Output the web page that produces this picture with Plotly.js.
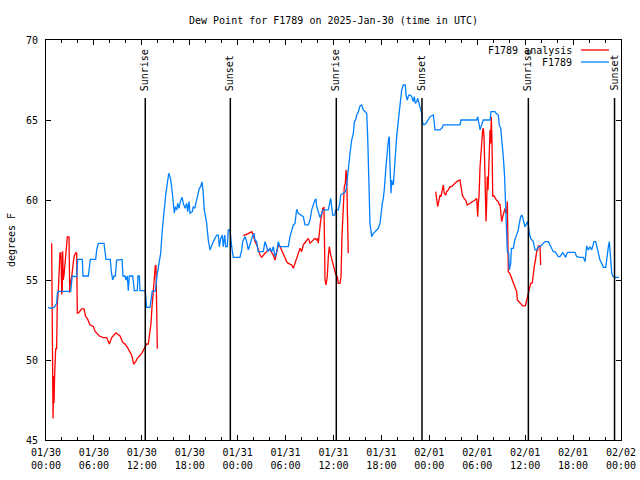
<!DOCTYPE html>
<html>
<head>
<meta charset="utf-8">
<script src="https://cdn.plot.ly/plotly-3.0.1.min.js"></script>
<style>html,body{margin:0;padding:0;background:#fff}#chart{width:640px;height:480px}</style>
</head>
<body>
<div id="chart"></div>
<script>
// Hours since 2025-01-30 00:00 UTC
const tickHours = [0, 6, 12, 18, 24, 30, 36, 42, 48, 54, 60, 66, 72];
const tickLabels = ["01/30<br>00:00", "01/30<br>06:00", "01/30<br>12:00", "01/30<br>18:00",
  "01/31<br>00:00", "01/31<br>06:00", "01/31<br>12:00", "01/31<br>18:00",
  "02/01<br>00:00", "02/01<br>06:00", "02/01<br>12:00", "02/01<br>18:00", "02/02<br>00:00"];

const sunHours = [12.43, 23.08, 36.35, 47.08, 60.40, 71.19];
const sunLabels = ["Sunrise", "Sunset", "Sunrise", "Sunset", "Sunrise", "Sunset"];

const analysisHours = [
  0.71, 0.75, 0.88, 0.96, 1.00, 1.08, 1.21, 1.33, 1.41, 1.54, 1.67, 1.75, 1.88, 1.97, 2.04, 2.09,
  2.17, 2.25, 2.38, 2.50, 2.59, 2.67, 2.88, 2.97, 3.04, 3.22, 3.29, 3.42, 3.54, 3.72, 3.84, 3.92,
  4.17, 4.47, 4.76, 4.97, 5.17, 5.51, 5.92, 6.14, 6.67, 7.17, 7.60, 7.93, 8.23, 8.51, 8.76, 9.05,
  9.27, 9.60, 9.89, 10.18, 10.52, 10.73, 10.98, 11.23, 11.43, 11.77, 11.98, 12.18, 12.48, 12.61,
  12.81, 13.02, 13.15, 13.27, 13.40, 13.52, 13.61, 13.69, 13.77, 13.86, 13.94,
  null,
  24.71, 25.04, 25.26, 25.54, 25.76, 25.96, 26.17, 26.38, 26.58, 26.80, 27.01, 27.21, 27.42, 27.64,
  27.84, 28.05, 28.26, 28.46, 28.68, 28.89, 29.09, 29.30, 29.51, 29.71, 29.93, 30.14, 30.34, 30.55,
  30.77, 30.97, 31.18, 31.39, 31.59, 31.81, 32.02, 32.22, 32.43, 32.64, 32.85, 33.06, 33.27, 33.47,
  33.68, 33.90, 34.02, 34.10, 34.22, 34.40, 34.52, 34.65, 34.81, 34.94, 35.06, 35.22, 35.35, 35.47,
  35.65, 35.77, 35.98, 36.19, 36.31, 36.48, 36.60, 36.81, 36.94, 37.06, 37.23, 37.35, 37.48, 37.57,
  37.65, 37.73, 37.85,
  null,
  48.80, 48.92, 49.05, 49.17, 49.34, 49.46, 49.62, 49.75, 49.87, 50.05, 50.17, 50.38, 50.59, 50.80,
  51.00, 51.22, 51.43, 51.84, 51.97, 52.13, 52.34, 52.55, 52.75, 53.09, 53.43, 53.72, 53.93, 54.06,
  54.13, 54.22, 54.35, 54.47, 54.56, 54.68, 54.76, 54.85, 54.93, 55.01, 55.10, 55.18, 55.26, 55.35,
  55.47, 55.60, 55.68, 55.76, 55.85, 55.94, 56.10, 56.26, 56.44, 56.64, 56.76, 56.85, 56.97, 57.06,
  57.19, 57.35, 57.48, 57.60, 57.69, 57.77, 57.85, 57.89, 58.10, 58.31, 58.52, 58.73, 58.94, 59.02,
  59.35, 59.69, 60.02, 60.19, 60.36, 60.52, 60.69, 60.89, 61.02, 61.14, 61.32, 61.44, 61.57, 61.65,
  61.86, 61.94
];
const analysisValues = [
  57.3, 51.9, 46.35, 49.0, 47.3, 49.0, 50.7, 50.7, 53.5, 54.3, 55.6, 56.7, 56.7, 54.1, 54.4, 56.8,
  55.0, 55.3, 56.0, 56.7, 57.4, 57.7, 57.7, 54.2, 54.8, 55.2, 55.6, 56.1, 56.5, 56.7, 56.7, 52.9,
  53.0, 53.2, 53.2, 52.7, 52.6, 52.2, 52.1, 51.8, 51.5, 51.4, 51.4, 51.0, 51.4, 51.6, 51.7, 51.6,
  51.5, 51.1, 51.0, 50.8, 50.5, 50.3, 49.75, 49.9, 50.1, 50.3, 50.4, 50.6, 50.9, 51.0,
  51.0, 51.7, 52.3, 53.3, 54.2, 54.9, 55.5, 55.9, 55.9, 53.5, 50.7,
  null,
  57.77, 57.81, 57.88, 57.96, 58.02, 57.81, 57.4, 57.2, 56.88, 56.56, 56.42, 56.56, 56.67, 56.77,
  56.88, 56.88, 56.7, 56.56, 56.25, 56.88, 57.2, 57.1, 56.88, 56.67, 56.35, 56.15, 56.04, 55.98,
  55.94, 55.73, 56.04, 56.35, 56.67, 56.98, 56.77, 57.2, 57.33, 57.5, 57.6, 57.3, 57.4, 57.5,
  57.6, 57.5, 57.6, 57.3, 58.13, 58.75, 59.06, 59.48, 59.54, 55.0, 54.69, 55.2, 56.46, 57.08,
  56.56, 56.35, 56.04, 55.63, 55.3, 55.2, 54.79, 54.79, 55.2, 57.7, 60.2, 60.83, 61.04, 61.88,
  61.46, 59.38, 56.67,
  null,
  60.52, 60.1, 59.58, 59.9, 60.31, 60.21, 60.73, 60.94, 60.42, 60.31, 60.52, 60.63, 60.83, 60.83,
  60.94, 61.04, 61.15, 61.25, 60.73, 60.31, 60.1, 60.0, 59.69, 59.79, 59.9, 60.0, 60.1, 58.96,
  59.79, 60.2, 62.08, 62.92, 63.96, 64.38, 64.48, 63.96, 62.29, 61.04, 58.65, 59.79, 61.46, 60.63,
  62.92, 64.38, 63.54, 65.2, 63.54, 60.25, 60.25, 60.1, 59.96, 59.9, 59.69, 59.75, 59.06, 58.65,
  58.96, 59.27, 59.48, 59.17, 59.27, 59.9, 57.5, 55.52, 55.38, 55.1, 54.9, 54.58, 54.27, 53.75,
  53.58, 53.38, 53.38, 53.75, 54.06, 54.48, 54.79, 54.83, 55.42, 55.83, 56.35, 56.77, 56.88, 57.13,
  57.13, 55.94
];

const stationHours = [
  0.25, 0.63, 1.00, 1.34, 1.41, 1.54, 3.09, 3.17, 3.29, 3.84, 3.97, 4.55, 4.63, 5.30, 5.42, 5.55,
  6.22, 6.35, 6.55, 7.26, 7.51, 8.05, 8.18, 8.35, 8.52, 8.68, 8.85, 9.52, 9.64, 9.89, 10.02, 10.18,
  10.31, 10.43, 10.86, 10.93, 11.06, 11.43, 11.52, 11.68, 11.77, 12.43, 12.52, 12.61, 13.02, 13.15,
  13.31, 13.69, 13.81, 13.94, 14.15, 14.36, 14.56, 14.78, 14.99, 15.19, 15.37, 15.53, 15.65, 15.82,
  15.94, 16.07, 16.19, 16.37, 16.49, 16.65, 16.82, 17.03, 17.19, 17.41, 17.62, 17.74, 17.91, 18.03,
  18.32, 18.44, 18.62, 18.78, 19.00, 19.20, 19.37, 19.53, 19.66, 19.82, 20.12, 20.32, 20.54, 20.75,
  20.95, 21.16, 21.38, 21.58, 21.70, 21.88, 22.08, 22.20, 22.38, 22.50, 22.70, 22.83, 23.04, 23.25,
  23.45, 24.29, 24.51, 24.63, 24.92, 25.13, 25.33, 25.54, 25.83, 26.05, 26.17, 26.38, 26.58, 27.21,
  27.42, 27.64, 27.76, 28.05, 28.26, 28.46, 28.68, 28.89, 29.09, 29.30, 30.34, 30.55, 30.77, 30.97,
  31.18, 31.39, 31.59, 32.02, 32.22, 32.43, 32.85, 33.06, 33.27, 33.47, 33.68, 33.81, 33.90, 34.10,
  34.31, 34.52, 34.72, 35.35, 35.47, 35.65, 35.77, 35.90, 36.15, 36.28, 36.60, 36.81, 36.90, 37.23,
  37.44, 37.57, 37.73, 37.94, 38.07, 38.28, 38.48, 38.61, 38.78, 38.91, 39.11, 39.32, 39.53, 39.73,
  39.95, 40.16, 40.28, 40.41, 40.57, 40.78, 40.99, 41.20, 41.41, 41.61, 41.82, 41.95, 42.11, 42.24,
  42.36, 42.54, 42.66, 42.79, 42.91, 42.99, 43.04, 43.08, 43.16, 43.20, 43.29, 43.36, 43.49, 43.61,
  43.74, 43.91, 44.08, 44.24, 44.42, 44.54, 44.74, 44.99, 45.08, 45.24, 45.42, 45.62, 45.79, 45.99,
  46.12, 46.24, 46.42, 46.55, 46.71, 46.83, 46.92, 47.05, 47.17, 47.33, 47.58, 48.09, 48.50, 48.62,
  48.71, 49.34, 49.55, 49.75, 51.84, 51.97, 53.93, 54.06, 54.22, 54.35, 54.47, 54.60, 54.76, 55.60,
  55.72, 56.22, 56.35, 56.64, 56.76, 56.94, 57.06, 57.26, 57.41, 57.52, 57.60, 57.69, 57.77, 57.94,
  58.02, 58.19, 58.27, 58.52, 58.69, 58.86, 59.14, 59.27, 59.44, 59.61, 59.77, 59.98, 60.19, 60.27,
  60.40, 60.52, 60.69, 60.82, 61.02, 61.23, 61.44, 61.65, 61.86, 62.07, 62.27, 62.48, 62.90, 63.11,
  63.32, 63.52, 63.74, 63.95, 64.15, 64.36, 64.57, 64.70, 64.90, 65.08, 65.20, 65.33, 66.24, 66.45,
  66.87, 67.28, 67.50, 67.62, 67.71, 67.91, 68.12, 68.33, 68.46, 68.62, 68.83, 69.04, 69.21, 69.37,
  69.58, 69.79, 70.09, 70.21, 70.42, 70.54, 70.63, 70.71, 70.84, 71.04, 71.25, 71.75
];
const stationValues = [
  53.29, 53.23, 53.29, 53.54, 54.13, 54.29, 54.29, 54.79, 55.25, 55.2, 56.29, 56.29, 55.25, 55.25, 55.94, 56.29,
  56.29, 56.88, 57.29, 57.29, 56.29, 56.29, 55.52, 55.0, 55.25, 55.25, 56.25, 56.29, 55.25, 55.25, 55.0, 55.25,
  54.33, 55.25, 55.25, 54.79, 54.33, 54.33, 55.25, 55.25, 54.33, 54.33, 53.44, 53.29, 53.29, 53.9,
  54.3, 54.3, 54.9, 55.42, 56.04, 56.67, 58.13, 59.48, 60.31, 61.04, 61.67, 61.46, 61.15, 60.42,
  59.48, 59.17, 59.58, 59.38, 59.79, 59.48, 59.9, 60.17, 59.79, 59.48, 59.79, 59.27, 59.9, 59.17,
  59.27, 59.58, 59.48, 59.79, 60.31, 60.73, 60.83, 61.13, 60.63, 59.38, 58.54, 57.5, 56.88, 57.19,
  57.4, 57.6, 57.81, 57.81, 57.08, 57.6, 57.81, 57.08, 57.81, 57.08, 57.08, 58.13, 58.13, 57.08,
  56.42, 56.42, 56.88, 57.4, 57.71, 57.4, 56.88, 57.2, 57.71, 57.92, 57.5, 57.4, 56.77, 56.77,
  57.4, 57.08, 56.77, 56.98, 56.77, 57.08, 56.46, 56.77, 57.4, 57.08, 57.08, 57.71, 58.13, 58.44,
  58.54, 59.42, 59.17, 59.06, 58.96, 58.44, 58.44, 58.75, 59.38, 59.69, 60.0, 60.04, 59.58, 59.27,
  58.9, 59.17, 59.38, 59.38, 59.69, 60.1, 59.58, 59.06, 59.06, 59.38, 59.38, 59.85, 60.31, 60.42,
  60.5, 60.6, 61.5, 62.29, 62.92, 63.75, 64.17, 64.9, 65.0, 65.31, 65.52, 65.88, 65.94, 65.63,
  65.52, 65.42, 63.96, 61.88, 58.54, 57.71, 57.92, 58.02, 58.13, 58.23, 58.54, 59.17, 59.79, 60.1,
  60.63, 61.88, 62.92, 63.33, 63.85, 63.96, 62.71, 62.08, 61.35, 60.42, 61.25, 61.04, 60.94, 61.88,
  63.13, 63.96, 64.79, 65.63, 66.56, 66.88, 67.19, 67.19, 66.56, 66.25, 66.56, 66.56, 66.46, 66.15,
  66.46, 66.04, 66.15, 66.35, 66.04, 65.83, 65.63, 65.42, 64.79, 64.69, 64.79, 65.21, 65.31, 64.69,
  64.38, 64.38, 64.48, 64.69, 64.69, 65.0, 65.0, 65.2, 64.58, 64.38, 64.58, 64.79, 65.0, 65.0,
  65.52, 65.52, 65.42, 65.31, 64.69, 64.48, 63.96, 62.71, 61.6, 60.42, 58.96, 57.6, 56.77, 56.67,
  55.63, 56.04, 56.98, 56.98, 57.5, 57.71, 58.13, 58.54, 58.96, 59.06, 58.75, 58.33, 58.54, 58.65,
  58.44, 57.92, 57.6, 57.5, 57.4, 56.88, 56.88, 57.08, 57.08, 57.19, 57.29, 57.4, 57.4, 57.19,
  56.88, 56.77, 56.77, 56.56, 56.46, 56.46, 56.67, 56.71, 56.56, 56.42, 56.63, 56.73, 56.73, 56.46,
  56.42, 56.42, 56.15, 56.67, 57.13, 56.88, 57.08, 56.88, 57.19, 57.4, 57.4, 56.98, 56.56, 56.25,
  56.04, 55.79, 55.79, 56.35, 57.08, 57.4, 56.88, 56.04, 55.42, 55.21, 55.17, 55.17
];

const seriesNames = ["F1789 analysis", "F1789"];
const seriesColors = ["#ff0000", "#0080ff"];

const FONT = "DejaVu Sans Mono, Liberation Mono, monospace";

const traces = [
  {x: analysisHours, y: analysisValues, type: "scatter", mode: "lines", name: seriesNames[0],
   line: {color: seriesColors[0], width: 1.3}, connectgaps: false, showlegend: false},
  {x: stationHours, y: stationValues, type: "scatter", mode: "lines", name: seriesNames[1],
   line: {color: seriesColors[1], width: 1.3}, showlegend: false}
];

const shapes = sunHours.map(h => ({
  type: "line", xref: "x", yref: "paper", x0: h, x1: h, y0: 0, y1: 0.855,
  line: {color: "black", width: 1.5}
}));
const annotations = sunHours.map((h, i) => ({
  x: h, xref: "x", y: 0.8675, yref: "paper", text: sunLabels[i], textangle: -90,
  showarrow: false, xanchor: "center", yanchor: "bottom",
  font: {family: FONT, size: 10, color: "black"}
}));

// manual gnuplot-style key: text on the left, sample on the right
const keyY = [0.975, 0.945];
seriesNames.forEach((n, i) => {
  annotations.push({x: 0.918, xref: "paper", y: keyY[i], yref: "paper", text: n,
    showarrow: false, xanchor: "right", yanchor: "middle",
    font: {family: FONT, size: 10, color: "black"}});
  shapes.push({type: "line", xref: "paper", yref: "paper", x0: 0.9304, x1: 0.9791,
    y0: keyY[i], y1: keyY[i], line: {color: seriesColors[i], width: 1.3}});
});

const axisCommon = {
  showline: true, linecolor: "black", linewidth: 1, mirror: "allticks",
  ticks: "inside", ticklen: 5, tickcolor: "black", tickwidth: 1,
  showgrid: false, zeroline: false,
  tickfont: {family: FONT, size: 10, color: "black"}
};

const layout = {
  width: 640, height: 480,
  margin: {l: 46, r: 19, t: 40, b: 40, autoexpand: false},
  paper_bgcolor: "white", plot_bgcolor: "white",
  font: {family: FONT, size: 10, color: "black"},
  title: {text: "Dew Point for F1789 on 2025-Jan-30 (time in UTC)",
          font: {family: FONT, size: 10, color: "black"},
          xref: "paper", x: 0.5, xanchor: "center", yref: "container", y: 0.958, yanchor: "middle"},
  xaxis: Object.assign({}, axisCommon, {
    range: [0, 72], tickmode: "array", tickvals: tickHours, ticktext: tickLabels,
    ticklabelstandoff: 3,
    minor: {tickmode: "linear", tick0: 0, dtick: 2, ticks: "inside", ticklen: 3, tickcolor: "black"}
  }),
  yaxis: Object.assign({}, axisCommon, {
    range: [45, 70], tickmode: "linear", tick0: 45, dtick: 5, ticklabelstandoff: 5,
    title: {text: "degrees F", font: {family: FONT, size: 10, color: "black"}, standoff: 8}
  }),
  shapes: shapes,
  annotations: annotations,
  showlegend: false
};

Plotly.newPlot("chart", traces, layout, {displayModeBar: false, staticPlot: true});
</script>
</body>
</html>
